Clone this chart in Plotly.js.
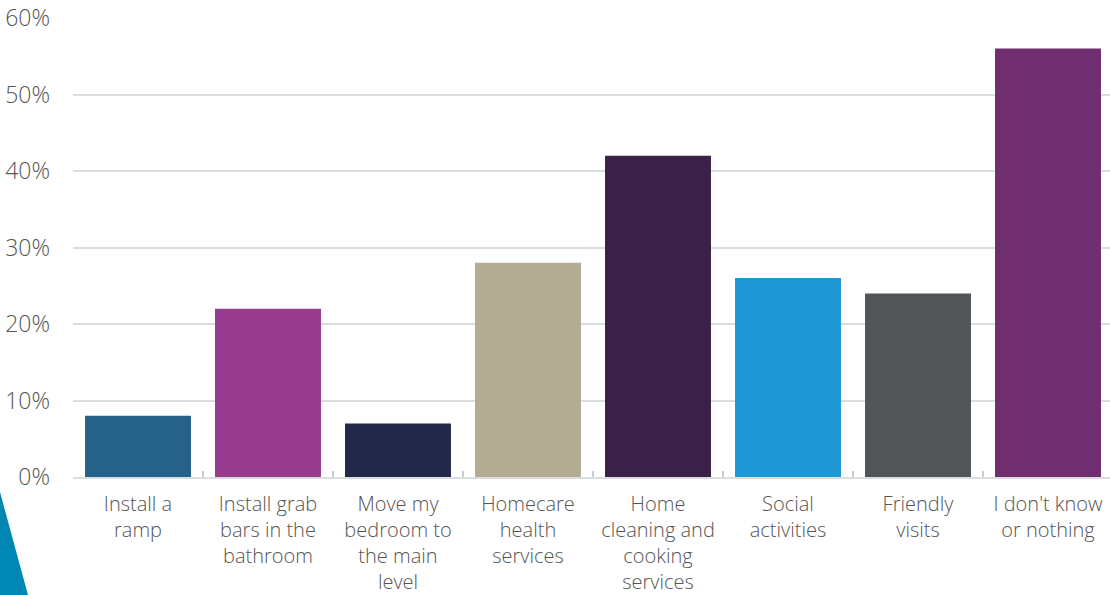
<!DOCTYPE html>
<html>
<head>
<meta charset="utf-8">
<script src="https://cdn.plot.ly/plotly-3.0.1.min.js"></script>
<style>
  html, body { margin: 0; padding: 0; background: #fff; }
  #chart { width: 1110px; height: 595px; }
</style>
</head>
<body>
<div id="chart"></div>
<script>
const categories = [
  "Install a<br>ramp",
  "Install grab<br>bars in the<br>bathroom",
  "Move my<br>bedroom to<br>the main<br>level",
  "Homecare<br>health<br>services",
  "Home<br>cleaning and<br>cooking<br>services",
  "Social<br>activities",
  "Friendly<br>visits",
  "I don't know<br>or nothing"
];
const values = [8, 22, 7, 28, 42, 26, 24, 56];
const barColors = ["#256188", "#973b8f", "#21284a", "#b3ab94", "#3b2148", "#1e97d5", "#515557", "#702e70"];
const yTickVals = [0, 10, 20, 30, 40, 50, 60];
const yTickText = ["0%", "10%", "20%", "30%", "40%", "50%", "60%"];

const textColor = "#555555";
const gridColor = "#d9dddd";

const trace = {
  type: "bar",
  x: categories,
  y: values,
  marker: { color: barColors },
  hoverinfo: "none"
};

const layout = {
  width: 1110,
  height: 595,
  margin: { l: 73, r: 0, t: 18, b: 118, pad: 0 },
  paper_bgcolor: "#fff",
  plot_bgcolor: "#fff",
  showlegend: false,
  bargap: 0.185,
  font: { family: "Open Sans, sans-serif", color: textColor, size: 20, weight: 300 },
  xaxis: {
    type: "category",
    range: [-0.5, 7.477],
    showgrid: false,
    showline: true,
    linecolor: gridColor,
    linewidth: 2,
    ticks: "inside",
    tickson: "boundaries",
    ticklen: 6,
    tickwidth: 1.5,
    tickcolor: "#c8cccc",
    tickfont: { size: 20, color: textColor, family: "Open Sans, sans-serif", weight: 300 },
    ticklabelstandoff: 8,
    fixedrange: true
  },
  yaxis: {
    range: [0, 60],
    tickvals: yTickVals,
    ticktext: yTickText,
    showgrid: true,
    gridcolor: gridColor,
    gridwidth: 2,
    zeroline: false,
    showline: false,
    ticks: "",
    tickfont: { size: 23, color: textColor, family: "Open Sans, sans-serif", weight: 300 },
    ticklabelstandoff: 22,
    fixedrange: true
  },
  shapes: [
    {
      type: "path",
      xref: "paper",
      yref: "paper",
      path: "M -0.0704 -0.0327 L -0.0434 -0.2571 L -0.0704 -0.2571 Z",
      fillcolor: "#0086b4",
      line: { width: 0 },
      layer: "above"
    }
  ]
};

Plotly.newPlot("chart", [trace], layout, { displayModeBar: false, staticPlot: true });
</script>
</body>
</html>
